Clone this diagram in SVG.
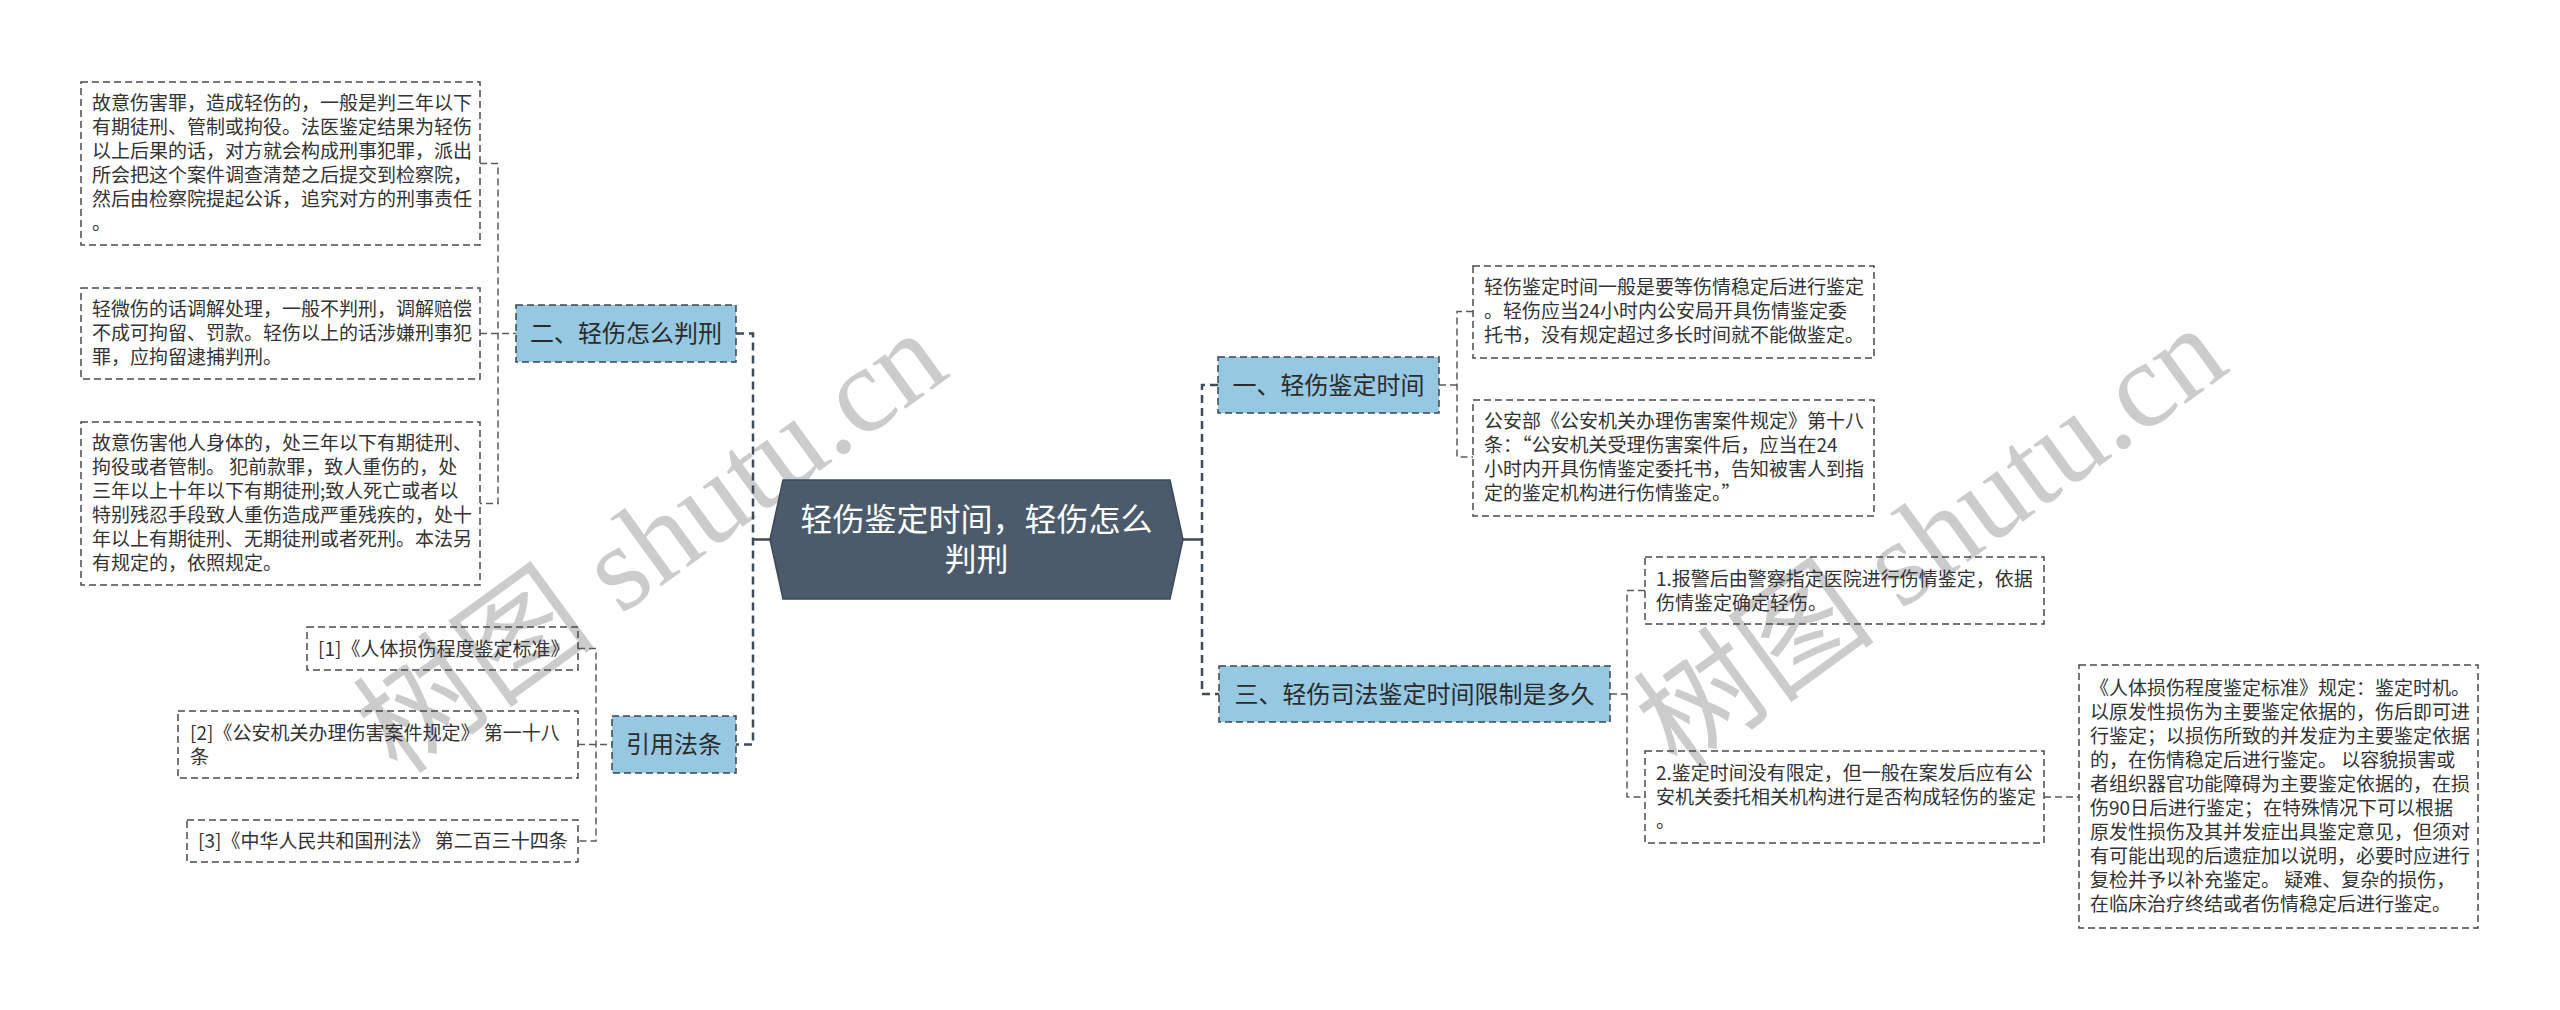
<svg xmlns="http://www.w3.org/2000/svg" width="2560" height="1010" viewBox="0 0 2560 1010">
<style>
.leaf{fill:none;stroke:#4a4a4a;stroke-width:1.5;stroke-dasharray:7 4}
.node{fill:#96c8e2;stroke:#3a4652;stroke-width:1.5;stroke-dasharray:7 4}
.lt{font-family:"Noto Sans CJK SC","Microsoft YaHei",sans-serif;font-size:19px;fill:#333333}
.nt{font-family:"Noto Sans CJK SC","Microsoft YaHei",sans-serif;font-size:24px;fill:#2b2b2b;text-anchor:middle}
.rt{font-family:"Noto Sans CJK SC","Microsoft YaHei",sans-serif;font-size:32px;fill:#ffffff;text-anchor:middle}
.thin{fill:none;stroke:#555c63;stroke-width:1.5;stroke-dasharray:7 4}
.thick{fill:none;stroke:#3f4b57;stroke-width:2.5;stroke-dasharray:8 5}
.solid{fill:none;stroke:#3f4b57;stroke-width:2.5}
.wm{font-family:"Liberation Serif","Noto Sans CJK SC",serif;font-size:122px;fill:#cccccc;text-anchor:middle}
</style>
<rect width="2560" height="1010" fill="#ffffff"/>
<g id="watermarks">
<text class="wm" x="653" y="583" transform="rotate(-36 653 545)">树图 shutu.cn</text>
<text class="wm" x="1933" y="578" transform="rotate(-36 1933 540)">树图 shutu.cn</text>
</g>
<g id="connectors">
<path class="solid" d="M753 539.5 H770"/>
<path class="thick" d="M736 333.5 H753 V744.5 H736"/>
<path class="thin" d="M480 163.5 H498 V503.5 H480 M480 333.5 H516"/>
<path class="thin" d="M578 648.5 H596 V841 H578 M578 744.5 H612"/>
<path class="solid" d="M1183 539.5 H1202"/>
<path class="thick" d="M1218 385 H1202 V694 H1219"/>
<path class="thin" d="M1473 311.5 H1457 V457 H1473 M1439 385 H1457"/>
<path class="thin" d="M1645 590.5 H1627 V797 H1645 M1610 694 H1627"/>
<path class="thin" d="M2044 797 H2079"/>
</g>
<g id="root">
<polygon points="770,539.5 783,480 1170,480 1183,539.5 1170,599 783,599" fill="#4b5b6b" stroke="#3c4956" stroke-width="1.5"/>
<text class="rt" x="976.5" y="531">轻伤鉴定时间，轻伤怎么</text>
<text class="rt" x="976.5" y="571">判刑</text>
</g>
<g id="n2">
<rect class="node" x="516" y="305" width="220" height="57"/>
<text class="nt" x="626" y="342">二、轻伤怎么判刑</text>
</g>
<g id="nref">
<rect class="node" x="612" y="716" width="124" height="57"/>
<text class="nt" x="674" y="753">引用法条</text>
</g>
<g id="n1">
<rect class="node" x="1218" y="357" width="221" height="56"/>
<text class="nt" x="1328.5" y="393.5">一、轻伤鉴定时间</text>
</g>
<g id="n3">
<rect class="node" x="1219" y="666" width="391" height="56"/>
<text class="nt" x="1414.5" y="702.5">三、轻伤司法鉴定时间限制是多久</text>
</g>
<g id="leafA">
<rect class="leaf" x="81" y="82" width="399" height="163"/>
<text class="lt" x="92"><tspan x="92" y="110">故意伤害罪，造成轻伤的，一般是判三年以下</tspan><tspan x="92" y="134">有期徒刑、管制或拘役。法医鉴定结果为轻伤</tspan><tspan x="92" y="158">以上后果的话，对方就会构成刑事犯罪，派出</tspan><tspan x="92" y="182">所会把这个案件调查清楚之后提交到检察院，</tspan><tspan x="92" y="206">然后由检察院提起公诉，追究对方的刑事责任</tspan><tspan x="92" y="230">。</tspan></text>
</g>
<g id="leafB">
<rect class="leaf" x="81" y="288" width="399" height="91"/>
<text class="lt" x="92"><tspan x="92" y="316">轻微伤的话调解处理，一般不判刑，调解赔偿</tspan><tspan x="92" y="340">不成可拘留、罚款。轻伤以上的话涉嫌刑事犯</tspan><tspan x="92" y="364">罪，应拘留逮捕判刑。</tspan></text>
</g>
<g id="leafC">
<rect class="leaf" x="81" y="422" width="399" height="163"/>
<text class="lt" x="92"><tspan x="92" y="450">故意伤害他人身体的，处三年以下有期徒刑、</tspan><tspan x="92" y="474">拘役或者管制。 犯前款罪，致人重伤的，处</tspan><tspan x="92" y="498">三年以上十年以下有期徒刑;致人死亡或者以</tspan><tspan x="92" y="522">特别残忍手段致人重伤造成严重残疾的，处十</tspan><tspan x="92" y="546">年以上有期徒刑、无期徒刑或者死刑。本法另</tspan><tspan x="92" y="570">有规定的，依照规定。</tspan></text>
</g>
<g id="ref1">
<rect class="leaf" x="307" y="627" width="271" height="43"/>
<text class="lt" x="318" y="655.5">[1]《人体损伤程度鉴定标准》</text>
</g>
<g id="ref2">
<rect class="leaf" x="178" y="711" width="400" height="67"/>
<text class="lt" x="190"><tspan x="190" y="739.5">[2]《公安机关办理伤害案件规定》 第一十八</tspan><tspan x="190" y="763.5">条</tspan></text>
</g>
<g id="ref3">
<rect class="leaf" x="187" y="820" width="391" height="42"/>
<text class="lt" x="198" y="848">[3]《中华人民共和国刑法》 第二百三十四条</text>
</g>
<g id="leafD">
<rect class="leaf" x="1473" y="266" width="401" height="92"/>
<text class="lt" x="1484"><tspan x="1484" y="294">轻伤鉴定时间一般是要等伤情稳定后进行鉴定</tspan><tspan x="1484" y="318">。轻伤应当24小时内公安局开具伤情鉴定委</tspan><tspan x="1484" y="342">托书，没有规定超过多长时间就不能做鉴定。</tspan></text>
</g>
<g id="leafE">
<rect class="leaf" x="1473" y="400" width="401" height="116"/>
<text class="lt" x="1484"><tspan x="1484" y="428">公安部《公安机关办理伤害案件规定》第十八</tspan><tspan x="1484" y="452">条：“公安机关受理伤害案件后，应当在24</tspan><tspan x="1484" y="476">小时内开具伤情鉴定委托书，告知被害人到指</tspan><tspan x="1484" y="500">定的鉴定机构进行伤情鉴定。”</tspan></text>
</g>
<g id="leafF">
<rect class="leaf" x="1645" y="557" width="399" height="67"/>
<text class="lt" x="1656"><tspan x="1656" y="585.5">1.报警后由警察指定医院进行伤情鉴定，依据</tspan><tspan x="1656" y="609.5">伤情鉴定确定轻伤。</tspan></text>
</g>
<g id="leafG">
<rect class="leaf" x="1645" y="751" width="399" height="92"/>
<text class="lt" x="1656"><tspan x="1656" y="780">2.鉴定时间没有限定，但一般在案发后应有公</tspan><tspan x="1656" y="804">安机关委托相关机构进行是否构成轻伤的鉴定</tspan><tspan x="1656" y="828">。</tspan></text>
</g>
<g id="leafH">
<rect class="leaf" x="2079" y="665" width="399" height="263"/>
<text class="lt" x="2090"><tspan x="2090" y="695">《人体损伤程度鉴定标准》规定：鉴定时机。</tspan><tspan x="2090" y="719">以原发性损伤为主要鉴定依据的，伤后即可进</tspan><tspan x="2090" y="743">行鉴定；以损伤所致的并发症为主要鉴定依据</tspan><tspan x="2090" y="767">的，在伤情稳定后进行鉴定。 以容貌损害或</tspan><tspan x="2090" y="791">者组织器官功能障碍为主要鉴定依据的，在损</tspan><tspan x="2090" y="815">伤90日后进行鉴定；在特殊情况下可以根据</tspan><tspan x="2090" y="839">原发性损伤及其并发症出具鉴定意见，但须对</tspan><tspan x="2090" y="863">有可能出现的后遗症加以说明，必要时应进行</tspan><tspan x="2090" y="887">复检并予以补充鉴定。 疑难、复杂的损伤，</tspan><tspan x="2090" y="911">在临床治疗终结或者伤情稳定后进行鉴定。</tspan></text>
</g>
</svg>
